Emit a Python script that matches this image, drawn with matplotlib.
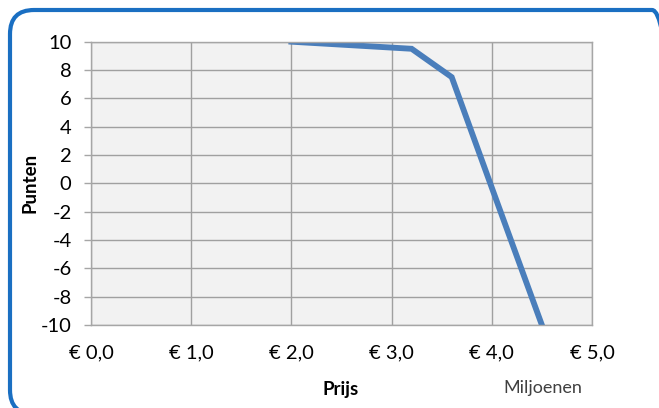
import matplotlib
matplotlib.use("Agg")
import matplotlib.pyplot as plt
from matplotlib.patches import FancyBboxPatch
from matplotlib.transforms import IdentityTransform

# prijs in miljoenen euro, punten
prijs = [2.0, 3.2, 3.6, 4.0, 4.5]
punten = [10.0, 9.5, 7.5, -0.3, -10.0]
x_ticks = [0, 1, 2, 3, 4, 5]
x_labels = ["€ 0,0", "€ 1,0", "€ 2,0", "€ 3,0", "€ 4,0", "€ 5,0"]
y_ticks = list(range(-10, 11, 2))

plt.rcParams['font.family'] = ['Lato', 'DejaVu Sans']

fig = plt.figure(figsize=(6.59, 4.08), dpi=100)
ax = fig.add_axes([0.1381, 0.2034, 0.7602, 0.6944])
ax.set_facecolor('#f2f2f2')

ax.plot(prijs, punten, color='#4a7ebb', lw=4.2, solid_joinstyle='miter', clip_on=True)

ax.set_xlim(0, 5)
ax.set_ylim(-10, 10)
ax.set_xticks(x_ticks)
ax.set_xticklabels(x_labels)
ax.set_yticks(y_ticks)
ax.set_yticklabels([str(v) for v in y_ticks])
ax.grid(True, color='#a0a0a0', lw=1.0)
ax.set_axisbelow(True)
for s in ax.spines.values():
    s.set_color('#a6a6a6')
    s.set_linewidth(1.0)
ax.tick_params(axis='x', length=0, pad=14, labelsize=14.5, colors='#000000')
ax.tick_params(axis='y', length=5, width=1, color='#a6a6a6', pad=9,
               labelsize=14.5, labelcolor='#000000')

fig.text(30 / 659, 1 - 183 / 408, "Punten", rotation=90, ha='center', va='center',
         fontsize=13.5, fontweight='bold')
fig.text(341 / 659, 1 - 390 / 408, "Prijs", ha='center', va='center',
         fontsize=13.5, fontweight='bold')
fig.text(543 / 659, 1 - 388 / 408, "Miljoenen", ha='center', va='center',
         fontsize=13, color='#404040')

border = FancyBboxPatch((10, -6), 666, 404, boxstyle="round,pad=0,rounding_size=24",
                        transform=IdentityTransform(), fill=False,
                        edgecolor='#1a6fc2', lw=3)
fig.add_artist(border)

fig.savefig("out.png", dpi=100)
